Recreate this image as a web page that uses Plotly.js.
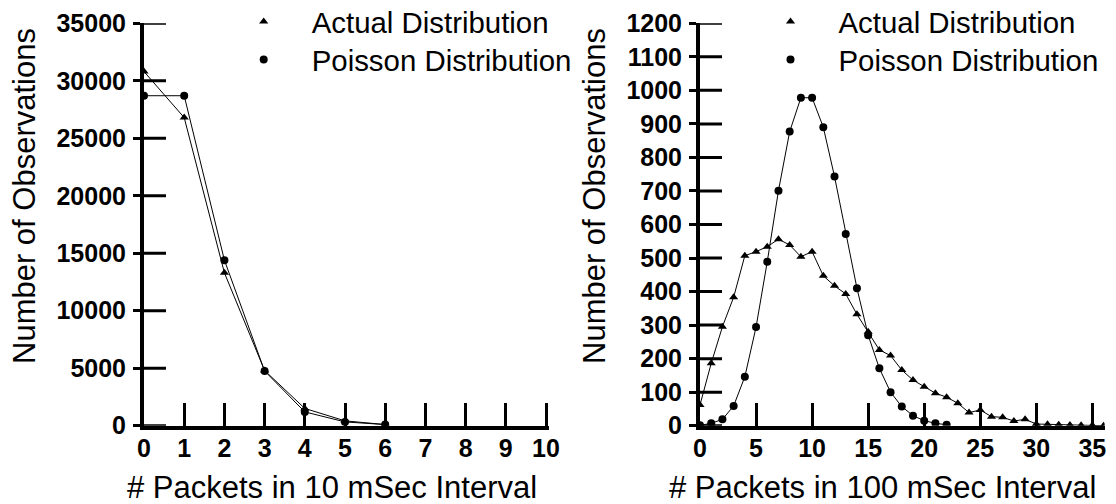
<!DOCTYPE html>
<html>
<head>
<meta charset="utf-8">
<script src="https://cdn.plot.ly/plotly-3.0.1.min.js"></script>
<style>html,body{margin:0;padding:0;background:#fff;}#chart{width:1116px;height:504px;}</style>
</head>
<body>
<div id="chart"></div>
<script>
// ---- Data: left panel (10 mSec interval) ----
const leftActualX = [0, 1, 2, 3, 4, 5, 6];
const leftActualY = [30800, 26800, 13300, 4800, 1500, 420, 100];
const leftPoissonX = [0, 1, 2, 3, 4, 5, 6];
const leftPoissonY = [28700, 28700, 14400, 4760, 1200, 330, 100];
const leftXTicks = [0, 1, 2, 3, 4, 5, 6, 7, 8, 9, 10];
const leftYTicks = [0, 5000, 10000, 15000, 20000, 25000, 30000, 35000];

// ---- Data: right panel (100 mSec interval) ----
const rightActualX = [0,1,2,3,4,5,6,7,8,9,10,11,12,13,14,15,16,17,18,19,20,21,22,23,24,25,26,27,28,29,30,31,32,33,34,35,36];
const rightActualY = [62,186,295,383,507,519,534,556,539,504,519,447,417,393,332,280,226,209,166,136,116,97,85,67,39,47,27,25,14,19,5,4,3,2,1,1,0];
const rightPoissonX = [0,1,2,3,4,5,6,7,8,9,10,11,12,13,14,15,16,17,18,19,20,21,22];
const rightPoissonY = [1,7,19,59,146,294,489,701,877,978,978,890,743,572,410,270,171,100,57,30,15,7,3];
const rightXTicks = [0, 5, 10, 15, 20, 25, 30, 35];
const rightYTicks = [0,100,200,300,400,500,600,700,800,900,1000,1100,1200];

const seriesNames = ['Actual Distribution', 'Poisson Distribution'];
const seriesSymbols = ['triangle-up', 'circle'];
const xTitles = ['# Packets in 10 mSec Interval', '# Packets in 100 mSec Interval'];
const yTitle = 'Number of Observations';

const FONT = 'Liberation Sans, Arial, Helvetica, sans-serif';
const W = 1116, H = 504;
const LEFT_PX_PER_UNIT = 40.2, RIGHT_PX_PER_UNIT = 11.21, INNER_TICK_PX = 22;

function line(x, y, sym, name, xa, ya) {
  return {
    type: 'scatter', mode: 'lines+markers', x: x, y: y, name: name,
    xaxis: xa, yaxis: ya, showlegend: false,
    line: {color: '#000', width: 1},
    marker: {symbol: sym, size: 8, color: '#000'},
    cliponaxis: true
  };
}
// legend-only entries (marker only, no line)
function legendEntry(i, xa, ya, legend) {
  return {
    type: 'scatter', mode: 'markers', x: [null], y: [null], name: seriesNames[i],
    xaxis: xa, yaxis: ya, legend: legend, showlegend: true,
    marker: {symbol: seriesSymbols[i], size: 8, color: '#000'}
  };
}
// inner part of the crossing y tick marks, built from the tick arrays
function innerTickTrace(ticks, pxPerUnit, xa, ya) {
  const dx = INNER_TICK_PX / pxPerUnit;
  const xs = [], ys = [];
  ticks.forEach(v => { xs.push(0, dx, null); ys.push(v, v, null); });
  return {type: 'scatter', mode: 'lines', x: xs, y: ys, xaxis: xa, yaxis: ya,
          showlegend: false, hoverinfo: 'skip', connectgaps: false,
          line: {color: '#000', width: 3}};
}

const traces = [
  innerTickTrace(leftYTicks, LEFT_PX_PER_UNIT, 'x', 'y'),
  innerTickTrace(rightYTicks, RIGHT_PX_PER_UNIT, 'x2', 'y2'),
  line(leftActualX, leftActualY, seriesSymbols[0], seriesNames[0], 'x', 'y'),
  line(leftPoissonX, leftPoissonY, seriesSymbols[1], seriesNames[1], 'x', 'y'),
  line(rightActualX, rightActualY, seriesSymbols[0], seriesNames[0], 'x2', 'y2'),
  line(rightPoissonX, rightPoissonY, seriesSymbols[1], seriesNames[1], 'x2', 'y2'),
  legendEntry(0, 'x', 'y', 'legend'),
  legendEntry(1, 'x', 'y', 'legend2'),
  legendEntry(0, 'x2', 'y2', 'legend3'),
  legendEntry(1, 'x2', 'y2', 'legend4')
];

const yDom = [(H - 425.7) / H, (H - 23.3) / H];
const tickFont = {family: FONT, size: 25, color: '#000', weight: 'bold'};

function xAxis(dom, range, ticks, anchor) {
  return {
    domain: dom, range: range, anchor: anchor, tickvals: ticks, ticktext: ticks.map(String),
    showgrid: false, zeroline: false, showline: true, linewidth: 4, linecolor: '#000',
    ticks: 'inside', ticklen: 23, tickwidth: 3, tickcolor: '#000',
    tickfont: tickFont, fixedrange: true, ticklabelstandoff: -3
  };
}
// y axis: line, labels and the outer part of each tick
function yAxis(range, ticks, anchor) {
  return {
    domain: yDom, range: range, anchor: anchor, tickvals: ticks, ticktext: ticks.map(String),
    showgrid: false, zeroline: false, showline: true, linewidth: 4, linecolor: '#000',
    ticks: 'outside', ticklen: 7, tickwidth: 3, tickcolor: '#000',
    tickfont: tickFont, fixedrange: true, ticklabelstandoff: 2
  };
}

const leftDom = [144 / W, (144 + 10.08 * LEFT_PX_PER_UNIT) / W];
const rightDom = [700 / W, (700 + 36.1 * RIGHT_PX_PER_UNIT) / W];

function legendAt(xpx, ycenter) {
  return {
    font: {family: FONT, size: 29.4, color: '#000'},
    bgcolor: 'rgba(0,0,0,0)', borderwidth: 0, xanchor: 'left', yanchor: 'top',
    itemwidth: 86, tracegroupgap: 0, itemclick: false, itemdoubleclick: false,
    x: xpx / W, y: (H - (ycenter - 27)) / H
  };
}

const layout = {
  width: W, height: H,
  margin: {l: 0, r: 0, t: 0, b: 0, pad: 0, autoexpand: false},
  paper_bgcolor: '#fff', plot_bgcolor: 'rgba(0,0,0,0)',
  font: {family: FONT, color: '#000'},
  xaxis: xAxis(leftDom, [0, 10.08], leftXTicks, 'y'),
  yaxis: yAxis([0, 35000], leftYTicks, 'x'),
  xaxis2: xAxis(rightDom, [0, 36.1], rightXTicks, 'y2'),
  yaxis2: yAxis([0, 1200], rightYTicks, 'x2'),
  legend: legendAt(215.7, 23),
  legend2: legendAt(215.7, 61),
  legend3: legendAt(742.5, 23),
  legend4: legendAt(742.5, 61),
  annotations: [
    {text: yTitle, xref: 'paper', yref: 'paper', x: 25 / W, y: (H - 196) / H, textangle: -90,
     showarrow: false, xanchor: 'center', yanchor: 'middle', font: {family: FONT, size: 31, color: '#000'}},
    {text: yTitle, xref: 'paper', yref: 'paper', x: 595 / W, y: (H - 196) / H, textangle: -90,
     showarrow: false, xanchor: 'center', yanchor: 'middle', font: {family: FONT, size: 31, color: '#000'}},
    {text: xTitles[0], xref: 'paper', yref: 'paper', x: 332 / W, y: (H - 487) / H,
     showarrow: false, xanchor: 'center', yanchor: 'middle', font: {family: FONT, size: 31, color: '#000'}},
    {text: xTitles[1], xref: 'paper', yref: 'paper', x: 882 / W, y: (H - 487) / H,
     showarrow: false, xanchor: 'center', yanchor: 'middle', font: {family: FONT, size: 31, color: '#000'}}
  ],
  showlegend: true
};

Plotly.newPlot('chart', traces, layout, {displayModeBar: false, staticPlot: true});
</script>
</body>
</html>
